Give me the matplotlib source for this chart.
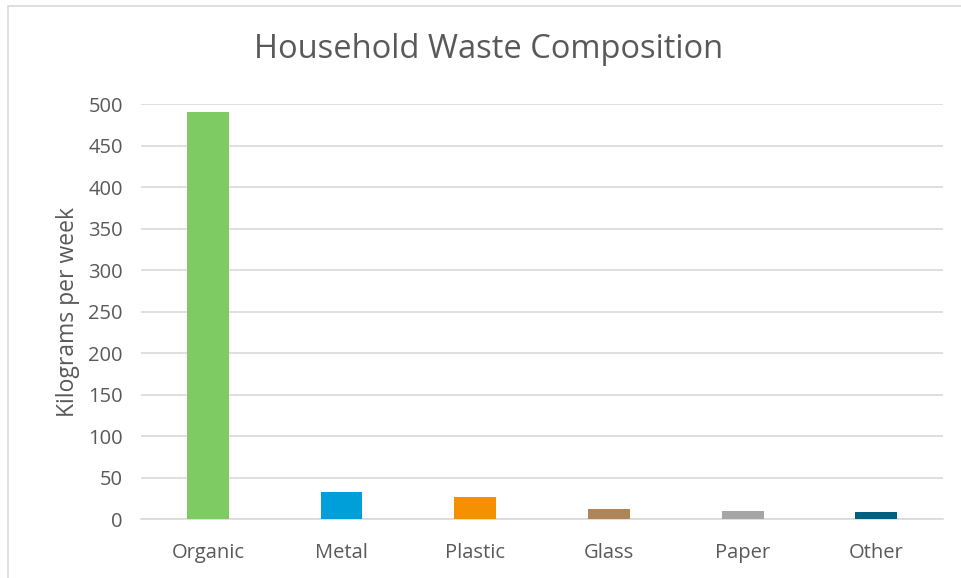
import matplotlib.pyplot as plt
from matplotlib.patches import Rectangle

categories = ["Organic", "Metal", "Plastic", "Glass", "Paper", "Other"]
kg_per_week = [491, 32, 27, 12, 10, 8]
bar_colors = ["#7dcb62", "#009fda", "#f59100", "#ae8459", "#a5a5a5", "#005f7d"]
y_ticks = [0, 50, 100, 150, 200, 250, 300, 350, 400, 450, 500]

plt.rcParams["font.family"] = ["Open Sans", "DejaVu Sans"]
text_color = "#595959"

fig = plt.figure(figsize=(9.61, 5.78), dpi=100)
ax = fig.add_axes([0.1467, 0.102, 0.8346, 0.718])

x = range(len(categories))
ax.bar(x, kg_per_week, width=0.314, color=bar_colors, zorder=3)

ax.set_xlim(-0.5, len(categories) - 0.5)
ax.set_ylim(0, 500)
ax.set_yticks(y_ticks)
ax.set_xticks(list(x))
ax.set_xticklabels(categories)
ax.yaxis.grid(True, color="#d9d9d9", linewidth=1.2, zorder=0)
for side in ["top", "right", "left"]:
    ax.spines[side].set_visible(False)
ax.spines["bottom"].set_color("#d9d9d9")
ax.spines["bottom"].set_linewidth(1.2)
ax.tick_params(axis="both", length=0, labelsize=14.5, colors=text_color)
ax.tick_params(axis="x", pad=17)
ax.tick_params(axis="y", pad=13)
ax.set_ylabel("Kilograms per week", fontsize=16.5, color=text_color, labelpad=6)

fig.text(0.508, 0.915, "Household Waste Composition", ha="center", va="center",
         fontsize=23.5, color=text_color)

# chart frame
fig.patches.append(Rectangle((0.008, -0.01), 1.2, 0.999, transform=fig.transFigure,
                             fill=False, edgecolor="#d9d9d9", linewidth=1.2))

fig.savefig("out.png", dpi=100)
